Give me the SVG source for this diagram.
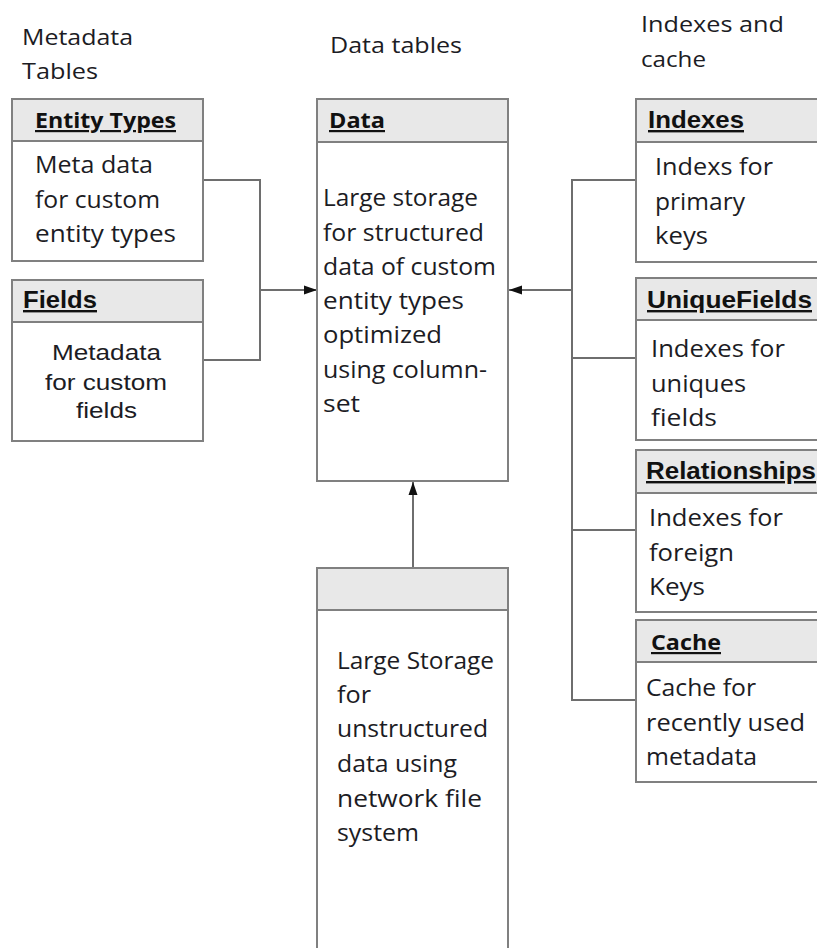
<svg xmlns="http://www.w3.org/2000/svg" width="817" height="948" viewBox="0 0 817 948">
<style>
.box{fill:#fff;stroke:#808080;stroke-width:2}
.hdr{fill:#e8e8e8;stroke:#808080;stroke-width:2}
.t{font-family:"Open Sans","Liberation Sans",sans-serif;font-size:23px;fill:#1c1c24}
.ta{font-family:"Liberation Sans",Arial,sans-serif;font-size:22px;fill:#1c1c24}
.h{font-family:"Open Sans","Liberation Sans",sans-serif;font-size:22px;font-weight:bold;fill:#111;text-decoration:underline}
.ha{font-family:"Liberation Sans",Arial,sans-serif;font-size:24px;font-weight:bold;fill:#111;text-decoration:underline}
.ttl{font-family:"Open Sans","Liberation Sans",sans-serif;font-size:22px;fill:#1c1c24}
.c{fill:none;stroke:#6e6e6e;stroke-width:2}
</style>
<defs>
<marker id="arr" markerWidth="14" markerHeight="12" refX="13" refY="6" orient="auto" markerUnits="userSpaceOnUse">
<path d="M0,1.5 L13,6 L0,10.5 Z" fill="#111"/>
</marker>
</defs>

<g id="titles">
<text class="ttl" x="22" y="45" textLength="111" lengthAdjust="spacingAndGlyphs">Metadata</text>
<text class="ttl" x="22" y="79" textLength="76" lengthAdjust="spacingAndGlyphs">Tables</text>
<text class="ttl" x="330" y="53" textLength="132" lengthAdjust="spacingAndGlyphs">Data tables</text>
<text class="ttl" x="641" y="32" textLength="143" lengthAdjust="spacingAndGlyphs">Indexes and</text>
<text class="ttl" x="641" y="67" textLength="65" lengthAdjust="spacingAndGlyphs">cache</text>
</g>

<g id="connectors">
<path class="c" d="M203,180 H260 V360 H203"/>
<path class="c" d="M260,290 H317" marker-end="url(#arr)"/>
<path class="c" d="M636,180 H572 V700 H636"/>
<path class="c" d="M572,358 H636"/>
<path class="c" d="M572,530 H636"/>
<path class="c" d="M572,290 H509" marker-end="url(#arr)"/>
<path class="c" d="M413,568 V482" marker-end="url(#arr)"/>
</g>

<g id="entity-types">
<rect class="box" x="12" y="99" width="191" height="162"/>
<rect class="hdr" x="12" y="99" width="191" height="42"/>
<text class="h" x="35" y="128" textLength="141" lengthAdjust="spacingAndGlyphs">Entity Types</text>
<text class="t" x="35" y="173" textLength="118" lengthAdjust="spacingAndGlyphs">Meta data</text>
<text class="t" x="35" y="208" textLength="125" lengthAdjust="spacingAndGlyphs">for custom</text>
<text class="t" x="35" y="242" textLength="141" lengthAdjust="spacingAndGlyphs">entity types</text>
</g>

<g id="fields">
<rect class="box" x="12" y="280" width="191" height="161"/>
<rect class="hdr" x="12" y="280" width="191" height="42"/>
<text class="ha" x="23" y="308" textLength="74" lengthAdjust="spacingAndGlyphs">Fields</text>
<text class="ta" x="52" y="360" textLength="109" lengthAdjust="spacingAndGlyphs">Metadata</text>
<text class="ta" x="45" y="390" textLength="122" lengthAdjust="spacingAndGlyphs">for custom</text>
<text class="ta" x="76" y="418" textLength="61" lengthAdjust="spacingAndGlyphs">fields</text>
</g>

<g id="data">
<rect class="box" x="317" y="99" width="191" height="382"/>
<rect class="hdr" x="317" y="99" width="191" height="43"/>
<text class="h" x="329" y="128" textLength="56" lengthAdjust="spacingAndGlyphs">Data</text>
<text class="t" x="323" y="206" textLength="155" lengthAdjust="spacingAndGlyphs">Large storage</text>
<text class="t" x="323" y="241" textLength="161" lengthAdjust="spacingAndGlyphs">for structured</text>
<text class="t" x="323" y="275" textLength="173" lengthAdjust="spacingAndGlyphs">data of custom</text>
<text class="t" x="323" y="309" textLength="141" lengthAdjust="spacingAndGlyphs">entity types</text>
<text class="t" x="323" y="343" textLength="119" lengthAdjust="spacingAndGlyphs">optimized</text>
<text class="t" x="323" y="378" textLength="164" lengthAdjust="spacingAndGlyphs">using column-</text>
<text class="t" x="323" y="412" textLength="37" lengthAdjust="spacingAndGlyphs">set</text>
</g>

<g id="storage">
<rect class="box" x="317" y="568" width="191" height="390"/>
<rect class="hdr" x="317" y="568" width="191" height="42"/>
<text class="t" x="337" y="669" textLength="157" lengthAdjust="spacingAndGlyphs">Large Storage</text>
<text class="t" x="337" y="703" textLength="34" lengthAdjust="spacingAndGlyphs">for</text>
<text class="t" x="337" y="737" textLength="151" lengthAdjust="spacingAndGlyphs">unstructured</text>
<text class="t" x="337" y="772" textLength="120" lengthAdjust="spacingAndGlyphs">data using</text>
<text class="t" x="337" y="807" textLength="145" lengthAdjust="spacingAndGlyphs">network file</text>
<text class="t" x="337" y="841" textLength="82" lengthAdjust="spacingAndGlyphs">system</text>
</g>

<g id="indexes">
<rect class="box" x="636" y="99" width="200" height="163"/>
<rect class="hdr" x="636" y="99" width="200" height="43"/>
<text class="ha" x="648" y="128" textLength="96" lengthAdjust="spacingAndGlyphs">Indexes</text>
<text class="t" x="655" y="175" textLength="118" lengthAdjust="spacingAndGlyphs">Indexs for</text>
<text class="t" x="655" y="210" textLength="90" lengthAdjust="spacingAndGlyphs">primary</text>
<text class="t" x="655" y="244" textLength="53" lengthAdjust="spacingAndGlyphs">keys</text>
</g>

<g id="uniquefields">
<rect class="box" x="636" y="278" width="200" height="162"/>
<rect class="hdr" x="636" y="278" width="200" height="42"/>
<text class="ha" x="647" y="308" textLength="165" lengthAdjust="spacingAndGlyphs">UniqueFields</text>
<text class="t" x="651" y="357" textLength="134" lengthAdjust="spacingAndGlyphs">Indexes for</text>
<text class="t" x="651" y="392" textLength="95" lengthAdjust="spacingAndGlyphs">uniques</text>
<text class="t" x="651" y="426" textLength="66" lengthAdjust="spacingAndGlyphs">fields</text>
</g>

<g id="relationships">
<rect class="box" x="636" y="450" width="200" height="162"/>
<rect class="hdr" x="636" y="450" width="200" height="43"/>
<text class="ha" x="646" y="479" textLength="170" lengthAdjust="spacingAndGlyphs">Relationships</text>
<text class="t" x="649" y="526" textLength="134" lengthAdjust="spacingAndGlyphs">Indexes for</text>
<text class="t" x="649" y="561" textLength="85" lengthAdjust="spacingAndGlyphs">foreign</text>
<text class="t" x="649" y="595" textLength="56" lengthAdjust="spacingAndGlyphs">Keys</text>
</g>

<g id="cache">
<rect class="box" x="636" y="620" width="200" height="162"/>
<rect class="hdr" x="636" y="620" width="200" height="42"/>
<text class="h" x="651" y="650" textLength="70" lengthAdjust="spacingAndGlyphs">Cache</text>
<text class="t" x="646" y="696" textLength="110" lengthAdjust="spacingAndGlyphs">Cache for</text>
<text class="t" x="646" y="731" textLength="159" lengthAdjust="spacingAndGlyphs">recently used</text>
<text class="t" x="646" y="765" textLength="111" lengthAdjust="spacingAndGlyphs">metadata</text>
</g>
</svg>
